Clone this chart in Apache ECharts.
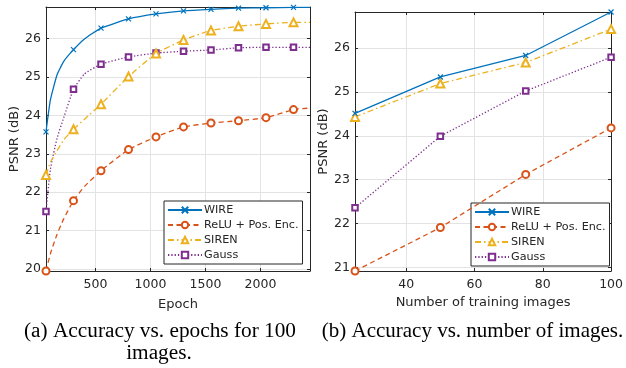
<!DOCTYPE html>
<html>
<head>
<meta charset="utf-8">
<script src="https://cdn.jsdelivr.net/npm/echarts@6/dist/echarts.min.js"></script>
<style>
html,body{margin:0;padding:0;background:#fff;}
#c{width:626px;height:368px;}
</style>
</head>
<body>
<div id="c"></div>
<script>
// ---- Data: (a) PSNR vs epoch ----
const epochs       = [50, 90, 150, 210, 300, 400, 550, 800, 1050, 1300, 1550, 1800, 2050, 2300, 2450];
const markerEpochs = [50, 300, 550, 800, 1050, 1300, 1550, 1800, 2050, 2300];
const wireEpoch  = [23.57, 24.40, 25.05, 25.40, 25.71, 25.99, 26.27, 26.51, 26.64, 26.72, 26.76, 26.79, 26.80, 26.81, 26.81];
const reluEpoch  = [19.95, 20.40, 20.90, 21.30, 21.78, 22.15, 22.56, 23.11, 23.44, 23.70, 23.80, 23.86, 23.94, 24.15, 24.19];
const sirenEpoch = [22.45, 22.78, 23.08, 23.36, 23.64, 23.90, 24.29, 25.01, 25.61, 25.96, 26.21, 26.32, 26.38, 26.42, 26.42];
const gaussEpoch = [21.50, 22.60, 23.40, 23.93, 24.68, 25.08, 25.33, 25.52, 25.62, 25.67, 25.70, 25.76, 25.77, 25.77, 25.77];
const epochTicks = [500, 1000, 1500, 2000];
const psnrTicksA = [20, 21, 22, 23, 24, 25, 26];

// ---- Data: (b) PSNR vs number of training images ----
const numImages = [25, 50, 75, 100];
const wireN  = [24.51, 25.34, 25.83, 26.82];
const reluN  = [20.92, 21.91, 23.12, 24.18];
const sirenN = [24.43, 25.19, 25.67, 26.43];
const gaussN = [22.36, 23.99, 25.02, 25.79];
const imageTicks = [40, 60, 80, 100];
const psnrTicksB = [21, 22, 23, 24, 25, 26];

const seriesNames = ['WIRE', 'ReLU + Pos. Enc.', 'SIREN', 'Gauss'];
const captionA1 = '(a) Accuracy vs. epochs for 100';
const captionA2 = 'images.';
const captionB  = '(b) Accuracy vs. number of images.';

// ---- Styles ----
const colors = ['#0072BD', '#D95319', '#EDB120', '#7E2F8E'];
const symbols = ['path://M0,0L10,10M10,0L0,10', 'emptyCircle', 'emptyTriangle', 'emptyRect'];
const symbolSizes = [5, 7, 8, 5.5];
const dashes = ['solid', [5, 3.5], [6, 3, 1.5, 3], [1.3, 2]];
const tickFont = 'DejaVu Sans';
const axisColor = '#262626';

const chart = echarts.init(document.getElementById('c'), null, {renderer: 'canvas'});

function mkData(xs, ys, markerXs) {
  return xs.map((x, i) => {
    const d = {value: [x, ys[i]]};
    if (markerXs && markerXs.indexOf(x) < 0) d.symbol = 'none';
    return d;
  });
}

function mkSeries(idx, xs, ys, markerXs, axisIdx, smooth) {
  const c = colors[idx];
  return {
    name: seriesNames[idx],
    type: 'line',
    xAxisIndex: axisIdx,
    yAxisIndex: axisIdx,
    data: mkData(xs, ys, markerXs),
    symbol: symbols[idx],
    symbolSize: symbolSizes[idx],
    showAllSymbol: true,
    smooth: smooth,
    z: 10 - idx,
    lineStyle: {color: c, width: 1.3, type: dashes[idx]},
    itemStyle: {color: c, borderColor: c, borderWidth: 1.2},
    emphasis: {disabled: true},
    animation: false
  };
}

const plainNum = v => String(v);

function xAxisCfg(grid, min, max, ticks, name, nameGap) {
  return {
    type: 'value', gridIndex: grid, min: min, max: max, position: 'bottom',
    name: name, nameLocation: 'middle', nameGap: nameGap,
    nameTextStyle: {fontFamily: tickFont, fontSize: 13, color: axisColor},
    axisLine: {show: true, lineStyle: {color: axisColor, width: 1}},
    axisTick: {show: true, inside: true, length: 3, customValues: ticks, lineStyle: {color: axisColor}},
    axisLabel: {customValues: ticks, formatter: plainNum, fontFamily: tickFont, fontSize: 12.5, color: axisColor, margin: 7},
    splitLine: {show: true, lineStyle: {color: '#e3e3e3', width: 1}}
  };
}
function xAxisTop(grid, min, max, ticks) {
  return {
    type: 'value', gridIndex: grid, min: min, max: max, position: 'top',
    axisLine: {show: true, onZero: false, lineStyle: {color: axisColor, width: 1}},
    axisTick: {show: true, inside: true, length: 3, customValues: ticks, lineStyle: {color: axisColor}},
    axisLabel: {show: false, customValues: ticks},
    splitLine: {show: false}
  };
}
function yAxisCfg(grid, min, max, ticks, nameGap) {
  return {
    type: 'value', gridIndex: grid, min: min, max: max, position: 'left',
    name: 'PSNR (dB)', nameLocation: 'middle', nameGap: nameGap,
    nameTextStyle: {fontFamily: tickFont, fontSize: 13, color: axisColor},
    axisLine: {show: true, onZero: false, lineStyle: {color: axisColor, width: 1}},
    axisTick: {show: true, inside: true, length: 3, customValues: ticks, lineStyle: {color: axisColor}},
    axisLabel: {customValues: ticks, formatter: plainNum, fontFamily: tickFont, fontSize: 12.5, color: axisColor, margin: 5},
    splitLine: {show: true, lineStyle: {color: '#e3e3e3', width: 1}}
  };
}
function yAxisRight(grid, min, max, ticks) {
  return {
    type: 'value', gridIndex: grid, min: min, max: max, position: 'right',
    axisLine: {show: true, onZero: false, lineStyle: {color: axisColor, width: 1}},
    axisTick: {show: true, inside: true, length: 3, customValues: ticks, lineStyle: {color: axisColor}},
    axisLabel: {show: false, customValues: ticks},
    splitLine: {show: false}
  };
}

const legendBase = {
  orient: 'vertical',
  backgroundColor: '#fff',
  borderColor: axisColor,
  borderWidth: 1,
  borderRadius: 0,
  padding: [2, 4, 2, 3],
  itemWidth: 34,
  itemHeight: 8,
  itemGap: 1,
  selectedMode: false,
  textStyle: {fontFamily: tickFont, fontSize: 11.2, color: axisColor, lineHeight: 14, padding: [0, 0, 0, -3]},
  data: seriesNames
};

const option = {
  animation: false,
  backgroundColor: '#fff',
  grid: [
    {left: 46, right: 316, top: 7, bottom: 97, containLabel: false},
    {left: 355, right: 11, top: 12, bottom: 97, containLabel: false}
  ],
  xAxis: [
    xAxisCfg(0, 50, 2450, epochTicks, 'Epoch', 27),
    xAxisCfg(1, 25, 100, imageTicks, 'Number of training images', 25),
    xAxisTop(0, 50, 2450, epochTicks),
    xAxisTop(1, 25, 100, imageTicks)
  ],
  yAxis: [
    yAxisCfg(0, 19.95, 26.82, psnrTicksA, 25),
    yAxisCfg(1, 20.92, 26.82, psnrTicksB, 24),
    yAxisRight(0, 19.95, 26.82, psnrTicksA),
    yAxisRight(1, 20.92, 26.82, psnrTicksB)
  ],
  legend: [
    Object.assign({}, legendBase, {left: 164, top: 201}),
    Object.assign({}, legendBase, {left: 471, top: 203})
  ],
  series: [
    mkSeries(0, epochs, wireEpoch, markerEpochs, 0, 0.15),
    mkSeries(1, epochs, reluEpoch, markerEpochs, 0, 0.15),
    mkSeries(2, epochs, sirenEpoch, markerEpochs, 0, 0.15),
    mkSeries(3, epochs, gaussEpoch, markerEpochs, 0, 0.15),
    mkSeries(0, numImages, wireN, null, 1, false),
    mkSeries(1, numImages, reluN, null, 1, false),
    mkSeries(2, numImages, sirenN, null, 1, false),
    mkSeries(3, numImages, gaussN, null, 1, false)
  ],
  graphic: [
    {type: 'text', x: 160, y: 331, style: {text: captionA1, fontFamily: 'Liberation Serif', fontSize: 21.3, fill: '#000', align: 'center', verticalAlign: 'middle'}},
    {type: 'text', x: 159, y: 353, style: {text: captionA2, fontFamily: 'Liberation Serif', fontSize: 21.3, fill: '#000', align: 'center', verticalAlign: 'middle'}},
    {type: 'text', x: 472.5, y: 331, style: {text: captionB, fontFamily: 'Liberation Serif', fontSize: 21, fill: '#000', align: 'center', verticalAlign: 'middle'}}
  ]
};
chart.setOption(option);
</script>
</body>
</html>
